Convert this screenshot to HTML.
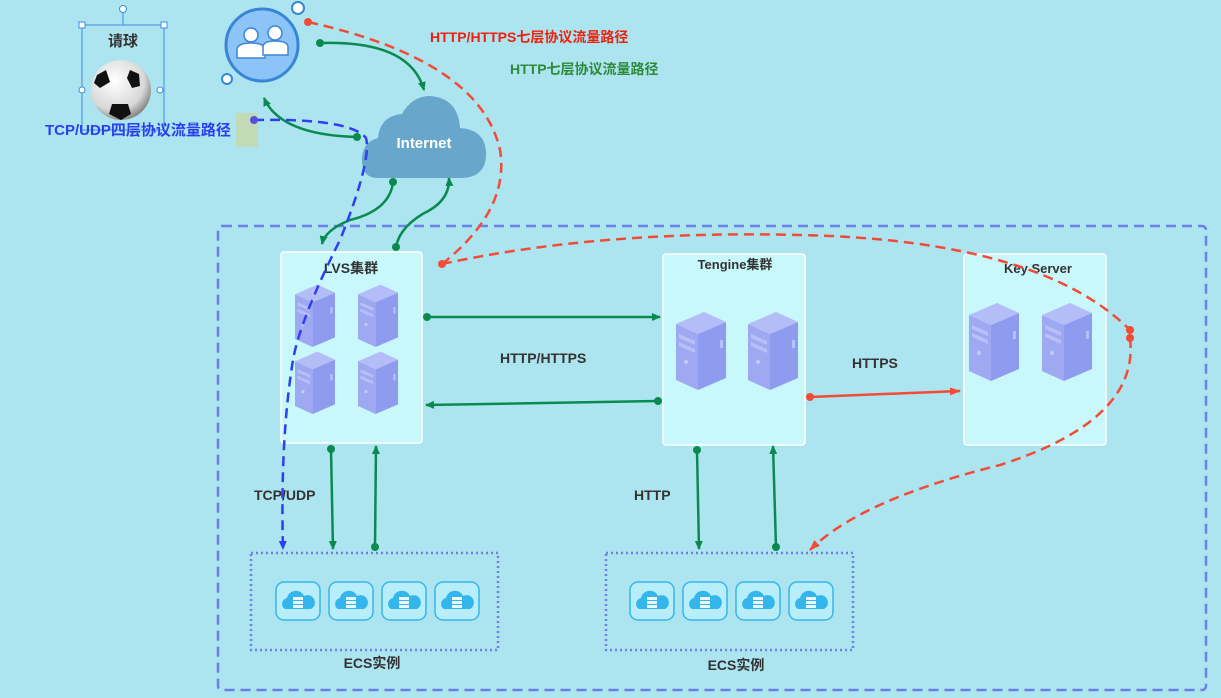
<!DOCTYPE html>
<html><head><meta charset="utf-8"><style>
html,body{margin:0;padding:0;background:#ace4f0;}
svg{display:block;font-family:"Liberation Sans","Noto Sans CJK SC",sans-serif;font-weight:bold;}
</style></head><body>
<svg width="1221" height="698" viewBox="0 0 1221 698" xmlns="http://www.w3.org/2000/svg">
<defs>
<symbol id="srv" viewBox="0 0 50 80">
<polygon points="0,14 22,24 22,80 0,70" fill="#9ea9f2"/>
<polygon points="22,24 50,12 50,68 22,80" fill="#8e9bef"/>
<polygon points="0,14 28,2 50,12 22,24" fill="#b4bdf8"/>
<polygon points="3,24 19,31 19,35 3,28" fill="#b7c0f8"/>
<polygon points="3,32 19,39 19,43 3,36" fill="#b7c0f8"/>
<circle cx="10" cy="52" r="2" fill="#c4cbf9"/>
<rect x="44" y="30" width="3" height="8" fill="#b7c0f8"/>
</symbol>
<symbol id="ecs" viewBox="0 0 46 40">
<rect x="1" y="1" width="44" height="38" rx="8" fill="#b8eefa" stroke="#34b6ec" stroke-width="1.5"/>
<path d="M10 28 a6 6 0 0 1 2-11 a9 9 0 0 1 17-2 a7 7 0 0 1 7 13 z" fill="#34b6ec"/>
<rect x="18" y="16" width="10" height="3" fill="#e6f8fe"/><rect x="18" y="20" width="10" height="3" fill="#e6f8fe"/><rect x="18" y="24" width="10" height="3" fill="#e6f8fe"/>
</symbol>
<radialGradient id="bg" cx="0.4" cy="0.35" r="0.7"><stop offset="0" stop-color="#ffffff"/><stop offset="0.7" stop-color="#d8d8d8"/><stop offset="1" stop-color="#777"/></radialGradient>
<marker id="ag" markerWidth="10" markerHeight="10" refX="8" refY="5" orient="auto" markerUnits="userSpaceOnUse"><path d="M0,1 L9,5 L0,9 z" fill="#0b8a50"/></marker>
<marker id="ar" markerWidth="12" markerHeight="10" refX="10" refY="5" orient="auto" markerUnits="userSpaceOnUse"><path d="M0,1 L11,5 L0,9 z" fill="#f24c36"/></marker>
<marker id="ab" markerWidth="10" markerHeight="10" refX="8" refY="5" orient="auto" markerUnits="userSpaceOnUse"><path d="M0,1 L9,5 L0,9 z" fill="#2f3ff0"/></marker>
</defs>

<rect x="218" y="226" width="988" height="464" rx="4" fill="none" stroke="#6b80ea" stroke-width="2.5" stroke-dasharray="10,6"/>

<rect x="82" y="25" width="82" height="105" fill="none" stroke="#3d8ee0" stroke-width="1"/>
<line x1="123" y1="9" x2="123" y2="25" stroke="#3d8ee0"/>
<circle cx="123" cy="9" r="3.5" fill="#fff" stroke="#3d8ee0"/>
<rect x="79" y="22" width="6" height="6" fill="#fff" stroke="#3d8ee0"/><rect x="161" y="22" width="6" height="6" fill="#fff" stroke="#3d8ee0"/>
<circle cx="82" cy="90" r="3" fill="#fff" stroke="#3d8ee0"/><circle cx="160" cy="90" r="3" fill="#fff" stroke="#3d8ee0"/>
<text x="123" y="46" font-size="15" fill="#333" text-anchor="middle">请球</text>
<circle cx="121" cy="90" r="30" fill="url(#bg)"/>
<polygon points="97,75 106,70 110,82 100,88 94,83" fill="#111"/>
<polygon points="130,70 139,74 140,86 132,88 127,78" fill="#111"/>
<polygon points="112,104 128,104 131,114 121,120 109,114" fill="#111"/>

<text x="45" y="135" font-size="15" fill="#2b3ff0">TCP/UDP四层协议流量路径</text>
<rect x="236" y="113" width="22" height="34" fill="#c8d8a8" opacity="0.8"/>

<circle cx="262" cy="45" r="36" fill="#8cc4f8" stroke="#3a86d6" stroke-width="3"/>
<circle cx="251" cy="35" r="7" fill="#fff" stroke="#3a86d6" stroke-width="1.5"/>
<path d="M237 58 v-8 q0-7 14-7 q14 0 14 7 v8 z" fill="#fff" stroke="#3a86d6" stroke-width="1.5"/>
<circle cx="275" cy="33" r="7" fill="#fff" stroke="#3a86d6" stroke-width="1.5"/>
<path d="M263 55 v-8 q0-6 12-6 q13 0 13 6 v8 z" fill="#fff" stroke="#3a86d6" stroke-width="1.5"/>
<circle cx="298" cy="8" r="6" fill="#fff" stroke="#3a86d6" stroke-width="2"/>
<circle cx="227" cy="79" r="5" fill="#fff" stroke="#3a86d6" stroke-width="2"/>

<path d="M378 178 q-16 0 -16 -18 q0 -18 16 -22 q2 -22 24 -24 q10 -18 28 -18 q28 2 30 32 q26 2 26 26 q0 24 -26 24 z" fill="#68a6cc"/>
<text x="424" y="148" font-size="15" fill="#fff" text-anchor="middle">Internet</text>

<text x="430" y="42" font-size="14" fill="#f0200e">HTTP/HTTPS七层协议流量路径</text>
<text x="510" y="74" font-size="14" fill="#2e8a3a">HTTP七层协议流量路径</text>

<rect x="281" y="252" width="141" height="191" rx="3" fill="#c8f7fc" stroke="#fff" stroke-width="1.5"/>
<rect x="663" y="254" width="142" height="191" rx="3" fill="#c8f7fc" stroke="#fff" stroke-width="1.5"/>
<rect x="964" y="254" width="142" height="191" rx="3" fill="#c8f7fc" stroke="#fff" stroke-width="1.5"/>
<text x="351" y="273" font-size="14" fill="#333" text-anchor="middle">LVS集群</text>
<text x="735" y="269" font-size="13" fill="#333" text-anchor="middle">Tengine集群</text>
<text x="1038" y="273" font-size="13" fill="#333" text-anchor="middle">Key Server</text>
<use href="#srv" x="294" y="283" width="42" height="64"/>
<use href="#srv" x="357" y="283" width="42" height="64"/>
<use href="#srv" x="294" y="350" width="42" height="64"/>
<use href="#srv" x="357" y="350" width="42" height="64"/>
<use href="#srv" x="676" y="310" width="50" height="80"/>
<use href="#srv" x="748" y="310" width="50" height="80"/>
<use href="#srv" x="969" y="301" width="50" height="80"/>
<use href="#srv" x="1042" y="301" width="50" height="80"/>

<rect x="251" y="553" width="247" height="97" fill="none" stroke="#6b80ea" stroke-width="2.5" stroke-dasharray="2,3"/>
<rect x="606" y="553" width="247" height="97" fill="none" stroke="#6b80ea" stroke-width="2.5" stroke-dasharray="2,3"/>
<use href="#ecs" x="275" y="581" width="46" height="40"/>
<use href="#ecs" x="328" y="581" width="46" height="40"/>
<use href="#ecs" x="381" y="581" width="46" height="40"/>
<use href="#ecs" x="434" y="581" width="46" height="40"/>
<use href="#ecs" x="629" y="581" width="46" height="40"/>
<use href="#ecs" x="682" y="581" width="46" height="40"/>
<use href="#ecs" x="735" y="581" width="46" height="40"/>
<use href="#ecs" x="788" y="581" width="46" height="40"/>
<text x="372" y="668" font-size="14" fill="#333" text-anchor="middle">ECS实例</text>
<text x="736" y="670" font-size="14" fill="#333" text-anchor="middle">ECS实例</text>

<text x="500" y="363" font-size="14" fill="#333">HTTP/HTTPS</text>
<text x="852" y="368" font-size="14" fill="#333">HTTPS</text>
<text x="254" y="500" font-size="14" fill="#333">TCP/UDP</text>
<text x="634" y="500" font-size="14" fill="#333">HTTP</text>

<g stroke="#0b8a50" stroke-width="2.5" fill="none">
<path d="M320 43 Q410 40 424 90" marker-end="url(#ag)"/>
<path d="M357 137 Q280 135 264 98" marker-end="url(#ag)"/>
<path d="M393 182 Q390 210 350 220 Q325 230 322 244" marker-end="url(#ag)"/>
<path d="M396 247 Q400 225 430 210 Q450 198 449 178" marker-end="url(#ag)"/>
<path d="M427 317 L660 317" marker-end="url(#ag)"/>
<path d="M658 401 L426 405" marker-end="url(#ag)"/>
<path d="M331 449 L333 549" marker-end="url(#ag)"/>
<path d="M375 547 L376 446" marker-end="url(#ag)"/>
<path d="M697 450 L699 549" marker-end="url(#ag)"/>
<path d="M776 547 L773 446" marker-end="url(#ag)"/>
</g>
<g fill="#0b8a50">
<circle cx="320" cy="43" r="4"/><circle cx="357" cy="137" r="4"/><circle cx="393" cy="182" r="4"/><circle cx="396" cy="247" r="4"/>
<circle cx="427" cy="317" r="4"/><circle cx="658" cy="401" r="4"/><circle cx="331" cy="449" r="4"/><circle cx="375" cy="547" r="4"/>
<circle cx="697" cy="450" r="4"/><circle cx="776" cy="547" r="4"/>
</g>

<path d="M254 120 Q350 118 366 138 Q372 160 340 240 Q300 320 293 360 Q280 440 283 549" fill="none" stroke="#2f3ff0" stroke-width="2.5" stroke-dasharray="10,6" marker-end="url(#ab)"/>
<circle cx="254" cy="120" r="4" fill="#5a4fd6"/>

<g stroke="#f24c36" stroke-width="2.5" fill="none">
<path d="M308 22 Q480 60 500 150 Q510 210 442 264" stroke-dasharray="10,6"/>
<path d="M442 264 Q600 230 800 235 Q1040 240 1130 330" stroke-dasharray="10,6"/>
<path d="M1130 338 Q1140 420 1000 465 Q860 500 810 550" stroke-dasharray="10,6" marker-end="url(#ar)"/>
<path d="M810 397 L960 391" marker-end="url(#ar)"/>
</g>
<g fill="#f24c36">
<circle cx="308" cy="22" r="4"/><circle cx="442" cy="264" r="4"/><circle cx="1130" cy="330" r="4"/><circle cx="1130" cy="338" r="4"/><circle cx="810" cy="397" r="4"/>
</g>
</svg>
</body></html>
